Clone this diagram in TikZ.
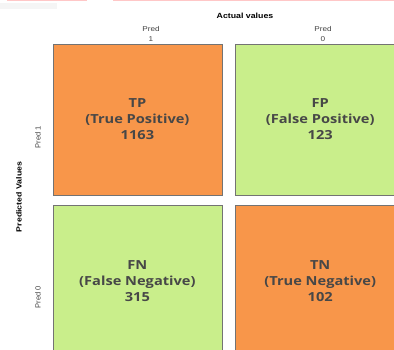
\documentclass[tikz,border=0pt]{standalone}
\usepackage{fontspec}
\setmainfont{Open Sans}
\newfontfamily\cellfont[FakeStretch=1.17]{Open Sans}
\newfontfamily\labelfont[FakeStretch=1.17]{Liberation Sans}
\newfontfamily\sidefont{Liberation Sans}
\usetikzlibrary{positioning}
\definecolor{cellorange}{HTML}{F8964A}
\definecolor{cellgreen}{HTML}{C9EE8B}
\definecolor{celltext}{HTML}{474747}

\begin{document}
\begin{tikzpicture}[x=1pt, y=1pt,
    cell/.style={rectangle, draw=black!55, line width=0.8pt, minimum width=169pt, minimum height=151pt,
        align=center, inner sep=0pt, text=celltext, font=\cellfont\fontsize{12.5}{16}\selectfont\bfseries},
    axislabel/.style={align=center, inner sep=0pt, text=black!75, font=\labelfont\fontsize{7}{10}\selectfont},
    sidelabel/.style={inner sep=0pt, text=black!75, font=\sidefont\fontsize{7.5}{9}\selectfont},
    axistitle/.style={inner sep=0pt, font=\labelfont\fontsize{7.5}{9}\selectfont\bfseries}]
    \useasboundingbox (0,0) rectangle (394,350);
    \clip (0,0) rectangle (394,350);
    \fill[red!22] (7,349) rectangle (87,350);
    \fill[red!22] (113,349) rectangle (394,350);
    \fill[black!4] (0,341) rectangle (57,347);
    % cells
    \node[cell, fill=cellorange] (tp) at (137.4,230.5) {TP\\(True Positive)\\1163};
    \node[cell, fill=cellgreen, right=13pt of tp] (fp) {FP\\(False Positive)\\123};
    \node[cell, fill=cellgreen, below=10pt of tp] (fn) {FN\\(False Negative)\\315};
    \node[cell, fill=cellorange, right=13pt of fn] (tn) {TN\\(True Negative)\\102};
    % axes
    \node[axistitle] (actual) at (245,334) {Actual values};
    \node[axislabel] (pred1) at (151,316) {Pred\\1};
    \node[axislabel] (pred0) at (323,316) {Pred\\0};
    \node[axistitle, rotate=90] (predicted) at (19,153) {Predicted Values};
    \node[sidelabel, rotate=90] (predrow1) at (38,213) {Pred 1};
    \node[sidelabel, rotate=90] (predrow0) at (38,53) {Pred 0};
\end{tikzpicture}
\end{document}
